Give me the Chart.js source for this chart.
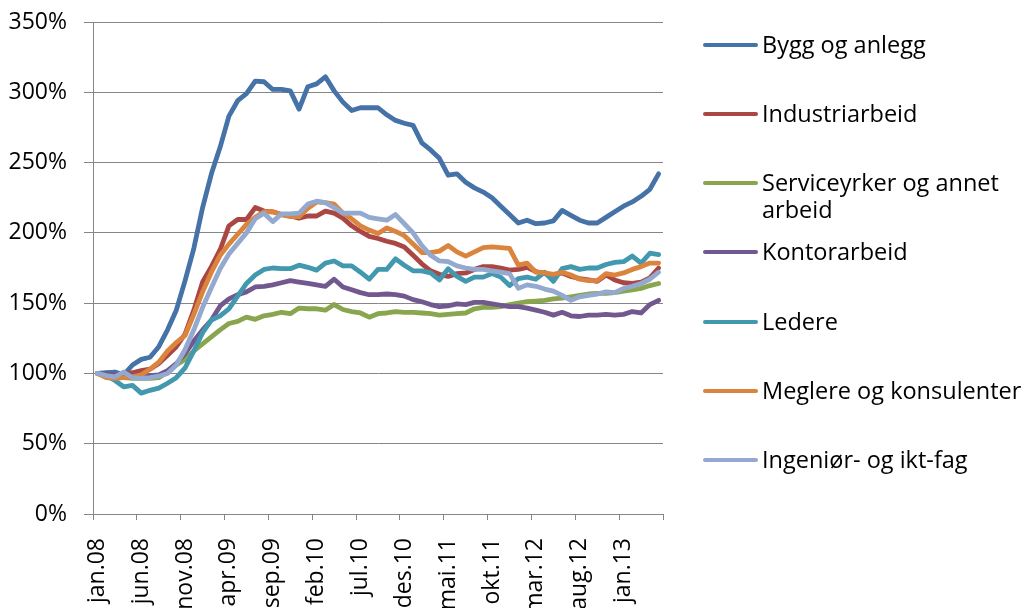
<!DOCTYPE html>
<html>
<head>
<meta charset="utf-8">
<script src="https://cdn.jsdelivr.net/npm/chart.js@4.4.1/dist/chart.umd.min.js"></script>
<style>
    html, body { margin: 0; padding: 0; background: #ffffff; }
    #wrap { position: relative; width: 1025px; height: 608px; overflow: hidden; }
    #chart { position: absolute; left: 0; top: 0; }
    .legendItem { position: absolute; left: 703px; display: flex; align-items: flex-start; font-family: "Open Sans", Lato, sans-serif; font-size: 23.5px; line-height: 27px; color: #000; }
    .legendLine { width: 55px; height: 4px; border-radius: 2px; margin-top: 12px; margin-right: 4px; flex: none; }
</style>
</head>
<body>
<div id="wrap">
    <canvas id="chart" width="1025" height="608"></canvas>
    <div id="legend"></div>
</div>
<script>
const monthNames = ["jan", "feb", "mar", "apr", "mai", "jun", "jul", "aug", "sep", "okt", "nov", "des"];
const years = ["08", "09", "10", "11", "12", "13"];
const monthCount = 65; // jan.08 - mai.13

const seriesNames = [
    "Bygg og anlegg",
    "Industriarbeid",
    ["Serviceyrker og annet", "arbeid"],
    "Kontorarbeid",
    "Ledere",
    "Meglere og konsulenter",
    "Ingeniør- og ikt-fag"
];
const seriesColors = ["#4572A7", "#AA4643", "#89A54E", "#71588F", "#4198AF", "#DB843D", "#93A9CF"];

const byggOgAnlegg = [100, 100.5, 101, 99, 106, 110, 111.5, 119, 131, 145, 166, 189, 218, 242, 261, 283, 294, 299, 308, 307.5,
    302, 302, 301, 288, 304, 306, 311, 301, 293, 287, 289, 289, 289, 284, 280, 278, 276.5, 264, 259, 253,
    241, 242, 236, 232, 229, 225, 219, 213, 207, 209, 206.5, 207, 208.5, 216, 212.5, 209, 207, 207, 211, 215,
    219, 222, 226, 231, 242];
const industriarbeid = [100, 99, 99, 99.5, 100.5, 102, 103, 107, 113, 119, 128, 145, 165, 176, 188, 205, 209.5, 209.5, 218, 215.5,
    215, 213, 212, 210.5, 212, 212, 215.5, 214, 210.5, 205, 201, 197.5, 196, 194, 192.5, 190, 184, 178, 173, 170.5,
    169, 171, 171.5, 174, 176, 176, 175, 173.5, 174, 175.5, 172.5, 171, 170, 171.5, 169, 167.5, 166.5, 165.5, 170, 166.5,
    164.5, 164, 165, 168, 175];
const serviceyrker = [100, 98, 97, 97, 96.5, 96.5, 96.5, 97, 101, 106, 110, 116, 121, 126, 131, 135.5, 137, 140, 138.5, 141,
    142, 143.5, 142.5, 146.5, 146, 146, 145, 149, 145.5, 144, 143, 140, 142.5, 143, 144, 143.5, 143.5, 143, 142.5, 141.5,
    142, 142.5, 143, 146, 147, 147, 147.5, 149, 150, 151, 151.5, 152, 153, 153.5, 154.5, 155.5, 156.5, 157, 157, 157.5,
    158.5, 159.5, 160.5, 162.5, 164];
const kontorarbeid = [100, 99.5, 99, 98.5, 98.5, 98, 98.5, 99, 102, 107, 114, 123, 131, 138, 148, 153, 156, 158, 161.5, 162,
    163, 164.5, 166, 165, 164, 163, 162, 167, 161.5, 159.5, 157.5, 156, 156, 156.5, 156, 155, 152.5, 151, 149, 147.5,
    148, 149.5, 149, 150.5, 150.5, 149.5, 148.5, 147.5, 147.5, 146.5, 145, 143.5, 141.5, 143.5, 141, 140.5, 141.5, 141.5, 142, 141.5,
    142, 144, 143, 149, 152];
const ledere = [100, 98.5, 95, 90.5, 91.5, 86, 88, 89.5, 93, 97, 104, 116, 129, 138, 141, 146, 155, 164, 170, 174,
    175, 174.5, 174.5, 177, 175.5, 173.5, 178.5, 180, 176.5, 176.5, 172, 167, 174, 174, 181.5, 177, 173, 173, 171.5, 166.5,
    174.5, 169, 165.5, 168.5, 168.5, 171, 168.5, 162.5, 167.5, 168.5, 167, 172, 165.5, 174.5, 176, 174, 175, 175, 177.5, 179,
    179.5, 183.5, 178.5, 185.5, 184.5];
const meglere = [100, 97, 96.5, 97, 97.5, 99, 103, 108, 116, 122, 127, 142, 158, 172, 184, 192, 199, 206, 211, 215,
    215, 213, 211.5, 211.5, 217.5, 222, 221.5, 220.5, 214, 210, 205, 202, 199.5, 203.5, 201, 198, 192, 186, 186, 187,
    191, 186.5, 183.5, 186.5, 189.5, 190, 189.5, 189, 177, 178.5, 172, 171.5, 170.5, 172, 170, 167, 166, 166, 171, 170,
    171.5, 174, 176, 178.5, 178.5];
const ingeniorIkt = [100, 98.5, 97.5, 101, 97, 96.5, 97, 98, 100, 106, 117, 131, 147, 161, 174.5, 185, 192.5, 200, 210, 214,
    208, 213.5, 213.5, 214, 220.5, 222.5, 221.5, 218, 214, 214, 214, 211, 210, 209, 213, 206.5, 200, 191, 184, 180,
    179.5, 176.5, 175, 174, 174, 173, 172, 171, 160.5, 163, 162, 160, 158.5, 155.5, 152, 154.5, 155.5, 156.5, 158, 157.5,
    160.5, 162, 164, 167, 172];

const yTicks = [0, 50, 100, 150, 200, 250, 300, 350];

const seriesValues = [byggOgAnlegg, industriarbeid, serviceyrker, kontorarbeid, ledere, meglere, ingeniorIkt];

let labels = [];
for (let i = 0; i < monthCount; i++) {
    labels.push(monthNames[i % 12] + "." + years[Math.floor(i / 12)]);
}

const axisGray = "#868686";
const fontFamily = "'Open Sans', Lato, sans-serif";

function drawChart(){
    const ctx = document.getElementById("chart").getContext("2d");
    const datasets = seriesValues.map(function(values, k){
        return {
            label: Array.isArray(seriesNames[k]) ? seriesNames[k].join(" ") : seriesNames[k],
            data: values,
            borderColor: seriesColors[k],
            backgroundColor: seriesColors[k],
            borderWidth: 4.8,
            pointRadius: 0,
            tension: 0,
            borderJoinStyle: "round",
            borderCapStyle: "round",
            order: seriesValues.length - k
        };
    });
    new Chart(ctx, {
        type: "line",
        data: { labels: labels, datasets: datasets },
        options: {
            responsive: false,
            animation: false,
            devicePixelRatio: 1,
            layout: { padding: { top: 22, right: 362, left: 0, bottom: 0 } },
            plugins: { legend: { display: false }, tooltip: { enabled: false } },
            scales: {
                x: {
                    type: "category",
                    offset: true,
                    afterFit: function(scale){ scale.height = 94; },
                    grid: {
                        offset: true,
                        drawOnChartArea: false,
                        drawTicks: true,
                        tickLength: 6,
                        lineWidth: 1,
                        color: function(c){
                            return (c.index === undefined || c.index % 5 === 0) ? axisGray : "rgba(0,0,0,0)";
                        }
                    },
                    border: { display: true, color: axisGray, width: 1 },
                    ticks: {
                        autoSkip: false,
                        minRotation: 90,
                        maxRotation: 90,
                        padding: 18,
                        color: "#000",
                        font: { family: fontFamily, size: 23 },
                        callback: function(v, i){ return i % 5 === 0 ? labels[i] : ""; }
                    }
                },
                y: {
                    min: yTicks[0],
                    max: yTicks[yTicks.length - 1],
                    afterFit: function(scale){
                        scale.width = 93;
                        scale.paddingTop = 0;
                        scale.paddingBottom = 0;
                    },
                    afterBuildTicks: function(scale){ scale.ticks = yTicks.map(function(v){ return { value: v }; }); },
                    grid: { color: axisGray, lineWidth: 1, tickLength: 9, drawTicks: true },
                    border: { display: true, color: axisGray, width: 1 },
                    ticks: {
                        padding: 17,
                        color: "#000",
                        font: { family: fontFamily, size: 23 },
                        callback: function(v){ return v + "%"; }
                    }
                }
            }
        }
    });
}

function drawLegend(){
    const legend = document.getElementById("legend");
    seriesNames.forEach(function(name, k){
        let item = document.createElement("div");
        item.className = "legendItem";
        item.style.top = (44 + k * 69.3 - 13.5) + "px";
        let line = document.createElement("div");
        line.className = "legendLine";
        line.style.background = seriesColors[k];
        item.appendChild(line);
        let text = document.createElement("div");
        text.innerHTML = Array.isArray(name) ? name.join("<br>") : name;
        item.appendChild(text);
        legend.appendChild(item);
    });
}

drawChart();
drawLegend();
</script>
</body>
</html>
